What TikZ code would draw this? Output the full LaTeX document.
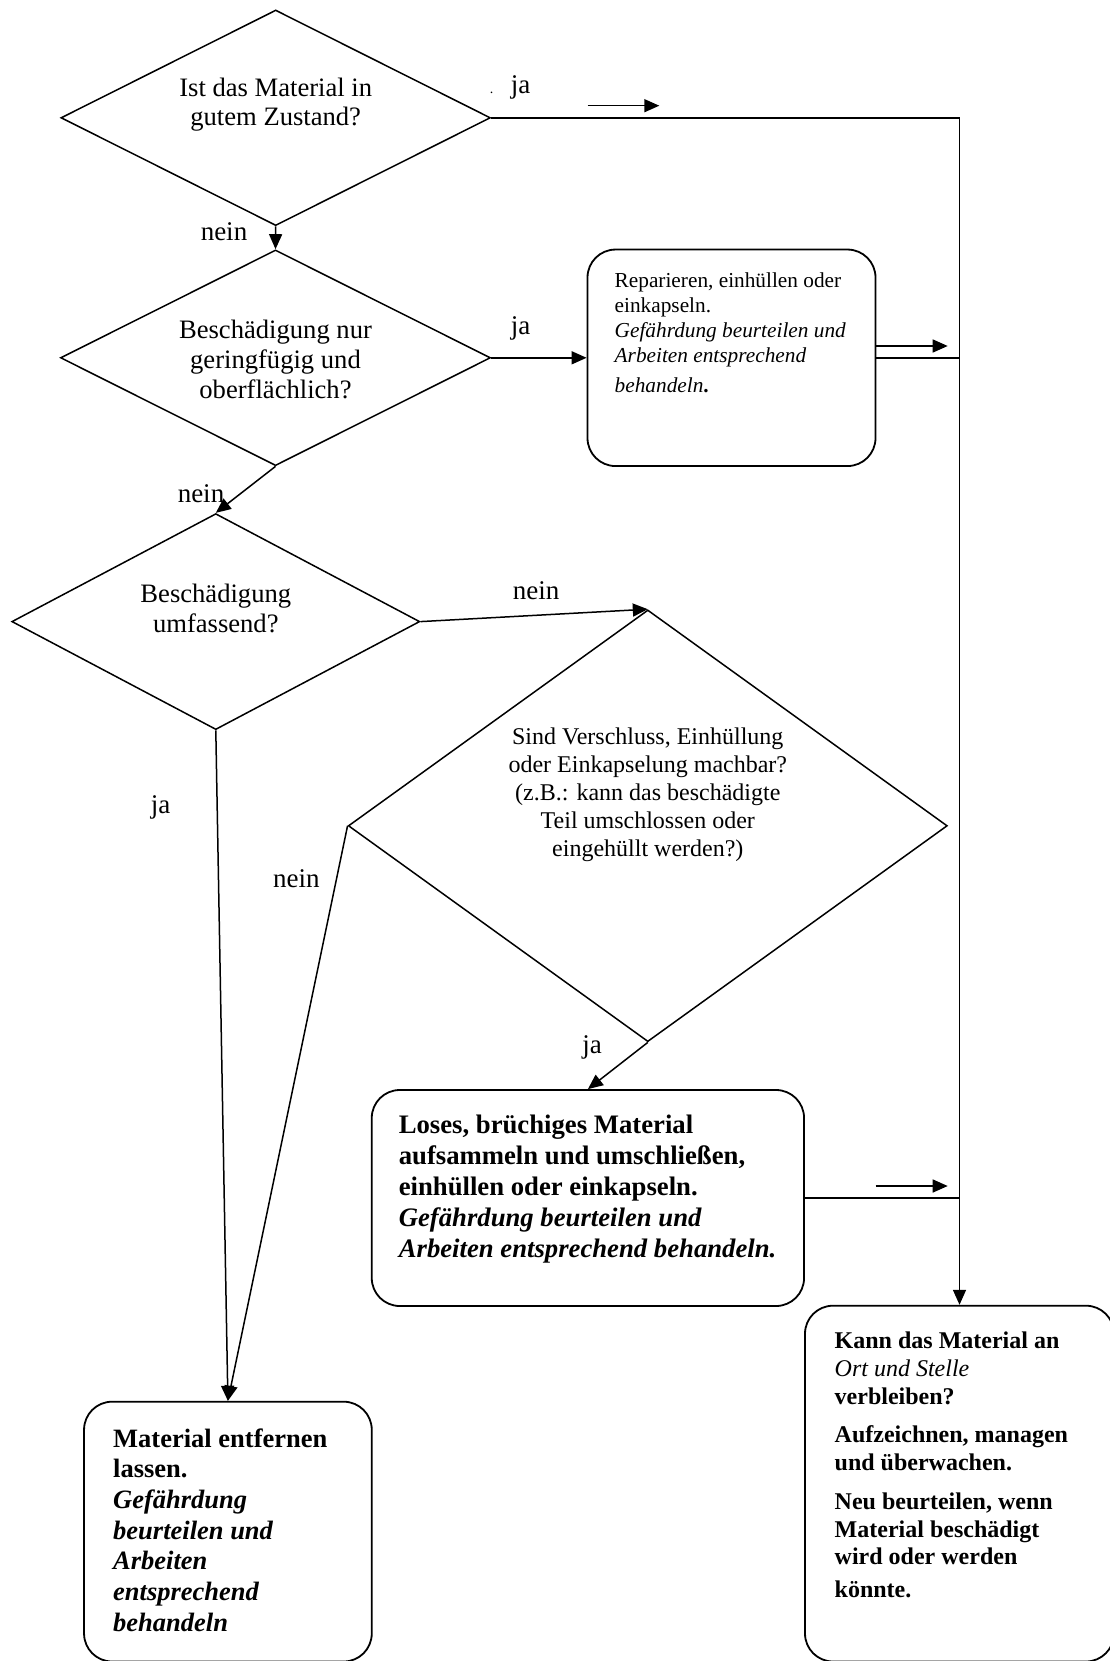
\documentclass[tikz,border=0pt]{standalone}
\usepackage{fontspec}
\setmainfont{Liberation Serif}
\usetikzlibrary{shapes.geometric,arrows.meta}
\begin{document}
\begin{tikzpicture}[x=1pt,y=-1pt,
  dia/.style={diamond,draw,line width=1.5pt,inner sep=0pt},
  rbox/.style={rectangle,draw,rounded corners=28pt,line width=1.8pt,inner sep=0pt},
  conn/.style={line width=1.5pt},
  arr/.style={line width=1.5pt,-{Triangle[length=15pt,width=13pt]}},
  lbl/.style={font=\fontsize{27}{30}\selectfont,inner sep=0pt},
  dtext/.style={font=\fontsize{26.6}{30}\selectfont,align=center,inner sep=0pt},
  btext/.style={align=left,inner sep=0pt,anchor=west},
]
\useasboundingbox (0,0) rectangle (1110,1661);

% decision diamonds
\node[dia,minimum width=429.5pt,minimum height=215.6pt] (d1) at (275.7,117.8) {};
\node[dia,minimum width=430pt,minimum height=215.7pt] (d2) at (275.5,357.8) {};
\node[dia,minimum width=408pt,minimum height=216pt] (d3) at (215.8,621.6) {};
\node[dia,minimum width=599pt,minimum height=431.7pt] (d4) at (647.8,825.8) {};

% boxes
\node[rbox,minimum width=288pt,minimum height=216.5pt] (rep) at (731.5,357.8) {};
\node[rbox,minimum width=432.3pt,minimum height=216pt] (loses) at (587.9,1198) {};
\node[rbox,minimum width=287.7pt,minimum height=259.8pt] (entf) at (227.9,1531.6) {};
\node[rbox,minimum width=309pt,minimum height=355.8pt] (kann) at (959.5,1483.6) {};

% texts in diamonds
\node[dtext,font=\fontsize{26.6}{29}\selectfont] (t1) at (275.7,105) {Ist das Material in\\gutem Zustand?};
\node[dtext] (t2) at (275.5,359) {Beschädigung nur\\geringfügig und\\oberflächlich?};
\node[dtext] (t3) at (215.8,608) {Beschädigung\\umfassend?};
\node[dtext,font=\fontsize{24}{28}\selectfont] (t4) at (647.8,795) {Sind Verschluss, Einhüllung\\oder Einkapselung machbar?\\(z.B.: kann das beschädigte\\Teil umschlossen oder\\eingehüllt werden?)};

% texts in boxes
\node[btext,font=\fontsize{21.3}{25}\selectfont] (trep) at (614.5,333)
 {Reparieren, einhüllen oder\\einkapseln.\\\textit{Gefährdung beurteilen und}\\\textit{Arbeiten entsprechend}\\[5pt]\textit{behandeln}\textbf{.}};
\node[btext,font=\fontsize{26.7}{30.8}\selectfont\bfseries] (tloses) at (398.6,1189)
 {Loses, brüchiges Material\\aufsammeln und umschließen,\\einhüllen oder einkapseln.\\\textit{Gefährdung beurteilen und}\\\textit{Arbeiten entsprechend behandeln.}};
\node[btext,font=\fontsize{26.5}{30.7}\selectfont\bfseries] (tentf) at (113,1530)
 {Material entfernen\\lassen.\\\textit{Gefährdung}\\\textit{beurteilen und}\\\textit{Arbeiten}\\\textit{entsprechend}\\\textit{behandeln}};
\node[btext,font=\fontsize{24}{27.7}\selectfont\bfseries] (tkann) at (834.5,1465)
 {Kann das Material an\\\textnormal{\textit{Ort und Stelle}}\\verbleiben?\\[11pt]Aufzeichnen, managen\\und überwachen.\\[11pt]Neu beurteilen, wenn\\Material beschädigt\\wird oder werden\\[5pt]könnte.};

% labels
\node[inner sep=0pt,font=\fontsize{14}{14}\selectfont] (dot) at (491.7,93.3) {.};
\node[lbl] (ja1) at (520.5,87.7) {ja};
\node[lbl] (nein1) at (224,231.5) {nein};
\node[lbl] (ja2) at (520.5,328) {ja};
\node[lbl] (nein2) at (201,494) {nein};
\node[lbl] (nein3) at (536,590.5) {nein};
\node[lbl] (ja3) at (160.5,807) {ja};
\node[lbl] (nein4) at (296.3,878.4) {nein};
\node[lbl] (ja4) at (592,1047.5) {ja};

% junction coordinates
\coordinate (c1) at (959.5,117.8);
\coordinate (j2) at (959.5,357.8);
\coordinate (j3) at (959.5,1198);
\coordinate (fa1s) at (587.7,105.7);
\coordinate (fa1e) at (659.3,105.7);
\coordinate (fa2s) at (875.5,346);
\coordinate (fa2e) at (947.7,346);
\coordinate (fa3s) at (875.7,1186);
\coordinate (fa3e) at (947.7,1186);

% connectors
\draw[conn] (d1.east) -- (c1);
\draw[arr] (c1) -- (kann.north);
\draw[arr] (d1.south) -- (d2.north);
\draw[arr] (d2.east) -- (rep.west);
\draw[conn] (rep.east) -- (j2);
\draw[arr] (d2.south) -- (d3.north);
\draw[arr] (d3.east) -- (d4.north);
\draw[arr] (d3.south) -- (entf.north);
\draw[arr] (d4.west) -- (entf.north);
\draw[arr] (d4.south) -- (loses.north);
\draw[conn] (loses.east) -- (j3);

% free arrows
\draw[arr] (fa1s) -- (fa1e);
\draw[arr] (fa2s) -- (fa2e);
\draw[arr] (fa3s) -- (fa3e);
\end{tikzpicture}
\end{document}
